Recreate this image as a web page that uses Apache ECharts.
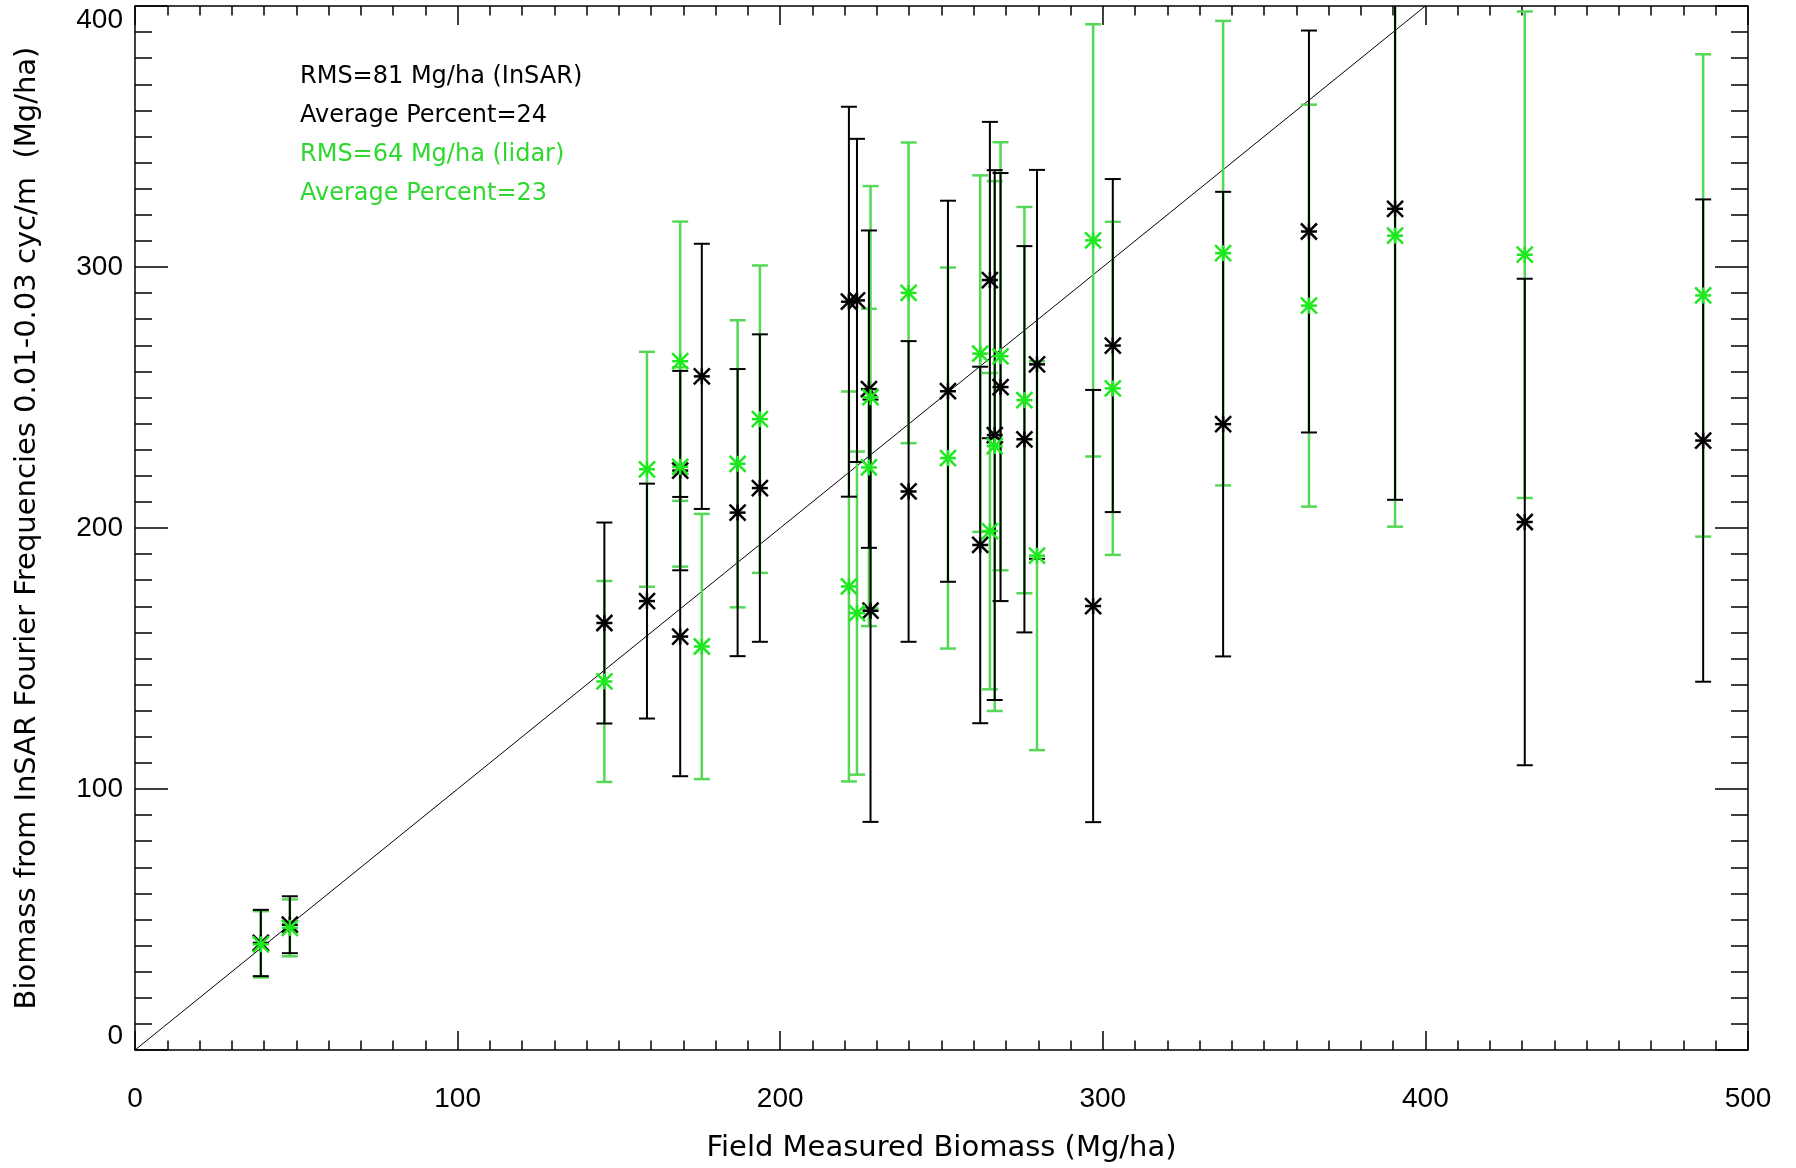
<!DOCTYPE html>
<html>
<head>
<meta charset="utf-8">
<script src="https://cdn.jsdelivr.net/npm/echarts@6/dist/echarts.min.js"></script>
<style>
html,body{margin:0;padding:0;background:#fff;}
#chart{width:1796px;height:1168px;}
</style>
</head>
<body>
<div id="chart"></div>
<script>
// ---- data ----
const fieldBiomass = [39, 48, 145.5, 158.7, 169, 169, 175.7, 186.8, 193.7, 221.3, 223.8, 228, 227.5, 239.8, 252, 262, 265, 266.5, 268.3, 275.7, 279.6, 297, 303.1, 337.3, 363.9, 390.6, 430.8, 486.1];
const insarBiomass = [41, 48, 163.6, 172, 158.4, 222, 258.1, 205.9, 215.3, 286.7, 287.2, 168.3, 253.2, 214, 252.4, 193.5, 295, 235.6, 254, 234, 262.7, 170.1, 269.9, 239.8, 313.6, 322.3, 202.3, 233.5];
const lidarBiomass = [40.5, 46.8, 141.2, 222.5, 263.9, 223.4, 154.6, 224.6, 241.7, 177.6, 167.4, 250.1, 223.2, 290.1, 226.8, 266.8, 198.8, 231.4, 265.8, 249, 189.4, 310.2, 253.5, 305.3, 285.2, 312, 304.7, 289.1];
const errorBar = [12.7, 10.9, 38.5, 45, 53.5, 38.2, 50.8, 55, 58.9, 74.7, 61.9, 80.9, 60.8, 57.6, 73, 68.3, 60.6, 101.5, 82, 74, 74.5, 82.8, 63.8, 89, 77, 111.5, 93.2, 92.4];
const oneToOne = [[0, 0], [400, 400]];
const xTitle = 'Field Measured Biomass (Mg/ha)';
const yTitle = 'Biomass from InSAR Fourier Frequencies 0.01-0.03 cyc/m  (Mg/ha)';
const notesInsar = ['RMS=81 Mg/ha (InSAR)', 'Average Percent=24'];
const notesLidar = ['RMS=64 Mg/ha (lidar)', 'Average Percent=23'];

const BLACK = '#000000';
const GREEN_BAR = '#55d855';
const GREEN_STAR = '#1ee81e';
const GREEN_TEXT = '#2ed82e';

function toData(vals) {
  return fieldBiomass.map((x, i) => [x, vals[i], errorBar[i]]);
}

function barSeries(vals, color, width, capHalf, z) {
  return {
    type: 'custom', z: z, clip: true, silent: true, animation: false,
    encode: {x: 0, y: 1},
    data: toData(vals),
    renderItem: function (params, api) {
      const x = api.value(0), y = api.value(1), e = api.value(2);
      const t = api.coord([x, y + e]);
      const b = api.coord([x, y - e]);
      const st = {stroke: color, lineWidth: width};
      return {type: 'group', children: [
        {type: 'line', shape: {x1: t[0], y1: t[1], x2: b[0], y2: b[1]}, style: st},
        {type: 'line', shape: {x1: t[0] - capHalf, y1: t[1], x2: t[0] + capHalf, y2: t[1]}, style: st},
        {type: 'line', shape: {x1: b[0] - capHalf, y1: b[1], x2: b[0] + capHalf, y2: b[1]}, style: st}
      ]};
    }
  };
}

function starSeries(vals, color, width, z) {
  return {
    type: 'custom', z: z, clip: true, silent: true, animation: false,
    encode: {x: 0, y: 1},
    data: toData(vals),
    renderItem: function (params, api) {
      const c = api.coord([api.value(0), api.value(1)]);
      const h = 8, v = 8;
      const st = {stroke: color, lineWidth: width};
      return {type: 'group', children: [
        {type: 'line', shape: {x1: c[0] - h, y1: c[1] - v, x2: c[0] + h, y2: c[1] + v}, style: st},
        {type: 'line', shape: {x1: c[0] - h, y1: c[1] + v, x2: c[0] + h, y2: c[1] - v}, style: st},
        {type: 'line', shape: {x1: c[0] - h, y1: c[1], x2: c[0] + h, y2: c[1]}, style: st},
        {type: 'line', shape: {x1: c[0], y1: c[1] - v, x2: c[0], y2: c[1] + v}, style: st}
      ]};
    }
  };
}

const axisCommon = {
  type: 'value',
  axisLine: {show: true, onZero: false, lineStyle: {color: '#000', width: 1.5}},
  splitLine: {show: false}
};
const tickFont = {fontFamily: 'Liberation Sans', fontSize: 28, color: '#000'};
const titleFont = {fontFamily: 'DejaVu Sans', fontSize: 29, color: '#000'};

const chart = echarts.init(document.getElementById('chart'), null, {renderer: 'canvas'});
const noteTexts = [];
notesInsar.forEach((t, i) => noteTexts.push({type: 'text', left: 300, top: 65 + i * 39,
  style: {text: t, fill: BLACK, font: '24px "DejaVu Sans"'}}));
notesLidar.forEach((t, i) => noteTexts.push({type: 'text', left: 300, top: 65 + (i + 2) * 39,
  style: {text: t, fill: GREEN_TEXT, font: '24px "DejaVu Sans"'}}));

chart.setOption({
  animation: false,
  backgroundColor: '#fff',
  grid: {left: 135, right: 48, top: 6, bottom: 118},
  xAxis: [
    Object.assign({}, axisCommon, {
      min: 0, max: 500, interval: 100, position: 'bottom',
      axisTick: {show: true, inside: true, length: 19, lineStyle: {color: '#000', width: 1.5}},
      minorTick: {show: true, splitNumber: 10, length: 9.5, lineStyle: {color: '#000', width: 1.5}},
      axisLabel: Object.assign({margin: 35}, tickFont),
      name: xTitle, nameLocation: 'middle', nameGap: 84, nameTextStyle: titleFont
    }),
    Object.assign({}, axisCommon, {
      min: 0, max: 500, interval: 100, position: 'top',
      axisTick: {show: true, inside: true, length: 19, lineStyle: {color: '#000', width: 1.5}},
      minorTick: {show: true, splitNumber: 10, length: 9.5, lineStyle: {color: '#000', width: 1.5}},
      axisLabel: {show: false}
    })
  ],
  yAxis: [
    Object.assign({}, axisCommon, {
      min: 0, max: 400, interval: 100, position: 'left',
      axisTick: {show: true, inside: true, length: 33, lineStyle: {color: '#000', width: 1.5}},
      minorTick: {show: true, splitNumber: 10, length: 17, lineStyle: {color: '#000', width: 1.5}},
      axisLabel: Object.assign({margin: 12, verticalAlignMaxLabel: 'top', verticalAlignMinLabel: 'bottom'}, tickFont),
      name: yTitle, nameLocation: 'middle', nameGap: 93, nameRotate: 90, nameTextStyle: titleFont
    }),
    Object.assign({}, axisCommon, {
      min: 0, max: 400, interval: 100, position: 'right',
      axisTick: {show: true, inside: true, length: 33, lineStyle: {color: '#000', width: 1.5}},
      minorTick: {show: true, splitNumber: 10, length: 17, lineStyle: {color: '#000', width: 1.5}},
      axisLabel: {show: false}
    })
  ],
  graphic: noteTexts,
  series: [
    {type: 'line', data: oneToOne, symbol: 'none', silent: true, z: 1, clip: true,
     lineStyle: {color: '#000', width: 1}},
    barSeries(lidarBiomass, GREEN_BAR, 2.5, 8, 2),
    barSeries(insarBiomass, BLACK, 2, 8, 3),
    starSeries(insarBiomass, BLACK, 2.5, 4),
    starSeries(lidarBiomass, GREEN_STAR, 2.5, 5)
  ]
});
</script>
</body>
</html>
